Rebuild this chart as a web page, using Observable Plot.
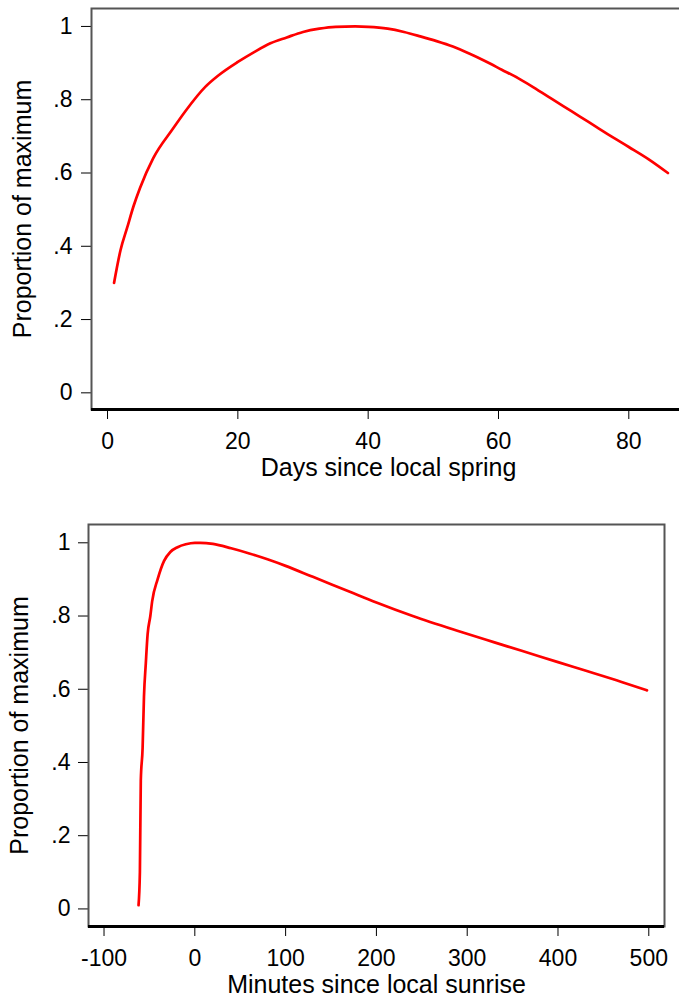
<!DOCTYPE html>
<html>
<head>
<meta charset="utf-8">
<script src="https://cdn.jsdelivr.net/npm/d3@7"></script>
<script src="https://cdn.jsdelivr.net/npm/@observablehq/plot@0.6"></script>
<style>
  html, body { margin: 0; padding: 0; background: white; overflow: hidden; width: 679px; height: 998px; }
  #top, #bottom { position: absolute; left: 0; }
  #top { top: 0; }
  #bottom { top: 490px; }
  svg { max-width: none !important; }
</style>
</head>
<body>
<div id="top"></div>
<div id="bottom"></div>
<script>
// ---- Data ----
const days = [1, 2, 3, 4, 5, 7, 10, 12, 15, 17, 20, 22.5, 25, 27.5, 30, 32.5, 35, 38, 40, 43, 45.5, 48, 50.5, 53, 55.5, 58, 60.5, 63, 65, 67.5, 70, 72.5, 75, 77.5, 80, 83, 86];
const springProp = [0.30, 0.39, 0.45, 0.51, 0.56, 0.64, 0.72, 0.77, 0.835, 0.866, 0.903, 0.930, 0.954, 0.97, 0.985, 0.994, 0.999, 1.0, 0.999, 0.994, 0.985, 0.973, 0.96, 0.945, 0.926, 0.905, 0.882, 0.859, 0.838, 0.810, 0.782, 0.754, 0.726, 0.698, 0.671, 0.638, 0.600];

const minutes = [-62, -60.5, -59.5, -57.5, -56, -54, -52, -49, -47, -41, -34, -27, -19, -10, 0, 6, 20, 40, 60, 80, 100, 130, 170, 200, 240, 290, 330, 360, 400, 430, 470, 498];
const sunriseProp = [0.01, 0.10, 0.35, 0.44, 0.58, 0.67, 0.75, 0.80, 0.84, 0.90, 0.95, 0.975, 0.988, 0.996, 1.0, 1.0, 0.997, 0.985, 0.971, 0.955, 0.937, 0.907, 0.867, 0.837, 0.800, 0.759, 0.728, 0.705, 0.674, 0.651, 0.620, 0.597];

const yTicks = [0, 0.2, 0.4, 0.6, 0.8, 1];
const dayTicks = [0, 20, 40, 60, 80];
const minuteTicks = [-100, 0, 100, 200, 300, 400, 500];

const yTitle = "Proportion of maximum";
const dayTitle = "Days since local spring";
const minuteTitle = "Minutes since local sunrise";

// ---- Build tables ----
const springData = days.map((d, i) => ({x: d, y: springProp[i]}));
const sunriseData = minutes.map((m, i) => ({x: m, y: sunriseProp[i]}));

const fmtY = d => d === 0 ? "0" : d === 1 ? "1" : String(d).replace(/^0\./, ".");
const fmtX = d => String(d);

const font = "'Liberation Sans', Arial, Helvetica, sans-serif";

function panel({data, xDomain, yDomain, xTicks, xTitle, width, height, marginLeft, marginRight, marginTop, marginBottom, xPad, yPad, titleDy}) {
  return Plot.plot({
    width, height, marginLeft, marginRight, marginTop, marginBottom,
    style: {fontFamily: font, fontSize: "23px", color: "black", background: "white", overflow: "visible", maxWidth: "none"},
    x: {domain: xDomain, ticks: xTicks, tickFormat: fmtX, tickSize: 10, tickPadding: xPad, label: null},
    y: {domain: yDomain, ticks: yTicks, tickFormat: fmtY, tickSize: 10, tickPadding: yPad, label: null},
    marks: [
      Plot.frame({stroke: "#555", strokeWidth: 2}),
      Plot.ruleY([yDomain[0]], {stroke: "black", strokeWidth: 3}),
      Plot.line(data, {x: "x", y: "y", stroke: "#ff0000", strokeWidth: 2.7, curve: "monotone-x"}),
      Plot.text([yTitle], {frameAnchor: "left", text: d => d, rotate: -90, dx: -69, fontSize: 25, textAnchor: "middle", lineAnchor: "middle", fill: "black"}),
      Plot.text([xTitle], {frameAnchor: "bottom", text: d => d, dy: titleDy, fontSize: 25, textAnchor: "middle", lineAnchor: "middle", fill: "black"})
    ]
  });
}

document.getElementById("top").append(panel({
  data: springData,
  xDomain: [-2.46, 88.7],
  yDomain: [-0.0455, 1.049],
  xTicks: dayTicks,
  xTitle: dayTitle,
  width: 700, height: 490,
  marginLeft: 91, marginRight: 15, marginTop: 8, marginBottom: 81,
  xPad: 13, yPad: 9, titleDy: 58
}));

document.getElementById("bottom").append(panel({
  data: sunriseData,
  xDomain: [-117.1, 517.3],
  yDomain: [-0.048, 1.05],
  xTicks: minuteTicks,
  xTitle: minuteTitle,
  width: 679, height: 508,
  marginLeft: 88, marginRight: 15, marginTop: 34, marginBottom: 72,
  xPad: 13, yPad: 8, titleDy: 58
}));
</script>
</body>
</html>
